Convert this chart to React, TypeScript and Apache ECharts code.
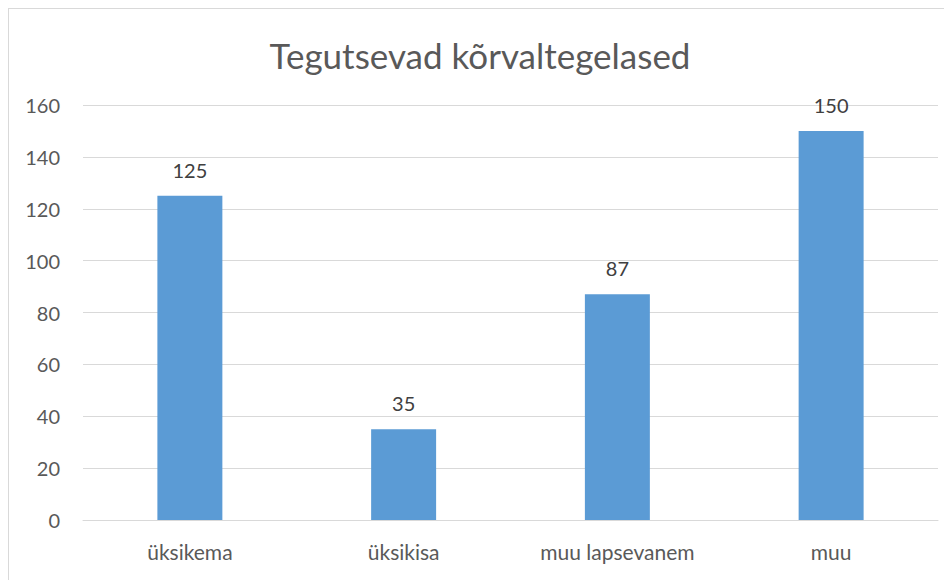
import React, { useEffect, useRef } from "react";
import * as echarts from "echarts";

const TITLE = "Tegutsevad kõrvaltegelased";
const categories = ["üksikema", "üksikisa", "muu lapsevanem", "muu"];
const values = [125, 35, 87, 150];
const yMin = 0;
const yMax = 160;
const yStep = 20;

const FONT = "Lato, 'Noto Sans', sans-serif";

export default function App() {
  const ref = useRef<HTMLDivElement>(null);
  useEffect(() => {
    if (!ref.current) return;
    const chart = echarts.init(ref.current, undefined, { renderer: "svg" });
    chart.setOption({
      animation: false,
      backgroundColor: "transparent",
      title: {
        text: TITLE,
        left: "center",
        top: 24,
        textStyle: { fontFamily: FONT, fontSize: 35, fontWeight: "normal", color: "#595959" },
      },
      grid: { left: 75, right: 14, top: 97, bottom: 60, containLabel: false },
      xAxis: {
        type: "category",
        data: categories,
        axisLine: { show: true, lineStyle: { color: "#d9d9d9", width: 1 } },
        axisTick: { show: false },
        axisLabel: { color: "#595959", fontFamily: FONT, fontSize: 21, margin: 21 },
      },
      yAxis: {
        type: "value",
        min: yMin,
        max: yMax,
        interval: yStep,
        axisLine: { show: false },
        axisTick: { show: false },
        splitLine: { lineStyle: { color: "#d9d9d9", width: 1 } },
        axisLabel: { color: "#595959", fontFamily: FONT, fontSize: 20, margin: 23 },
      },
      series: [
        {
          type: "bar",
          data: values,
          barWidth: "30.4%",
          itemStyle: { color: "#5b9bd5" },
          label: {
            show: true,
            position: "top",
            distance: 16,
            color: "#404040",
            fontFamily: FONT,
            fontSize: 20,
          },
        },
      ],
    });
    return () => chart.dispose();
  }, []);
  return (
    <div
      style={{
        position: "relative",
        width: 944,
        height: 572,
        boxSizing: "border-box",
        borderLeft: "1px solid #d9d9d9",
        borderTop: "1px solid #d9d9d9",
        background: "#ffffff",
      }}
    >
      <div ref={ref} style={{ position: "absolute", left: -1, top: -1, width: 944, height: 572 }} />
    </div>
  );
}
